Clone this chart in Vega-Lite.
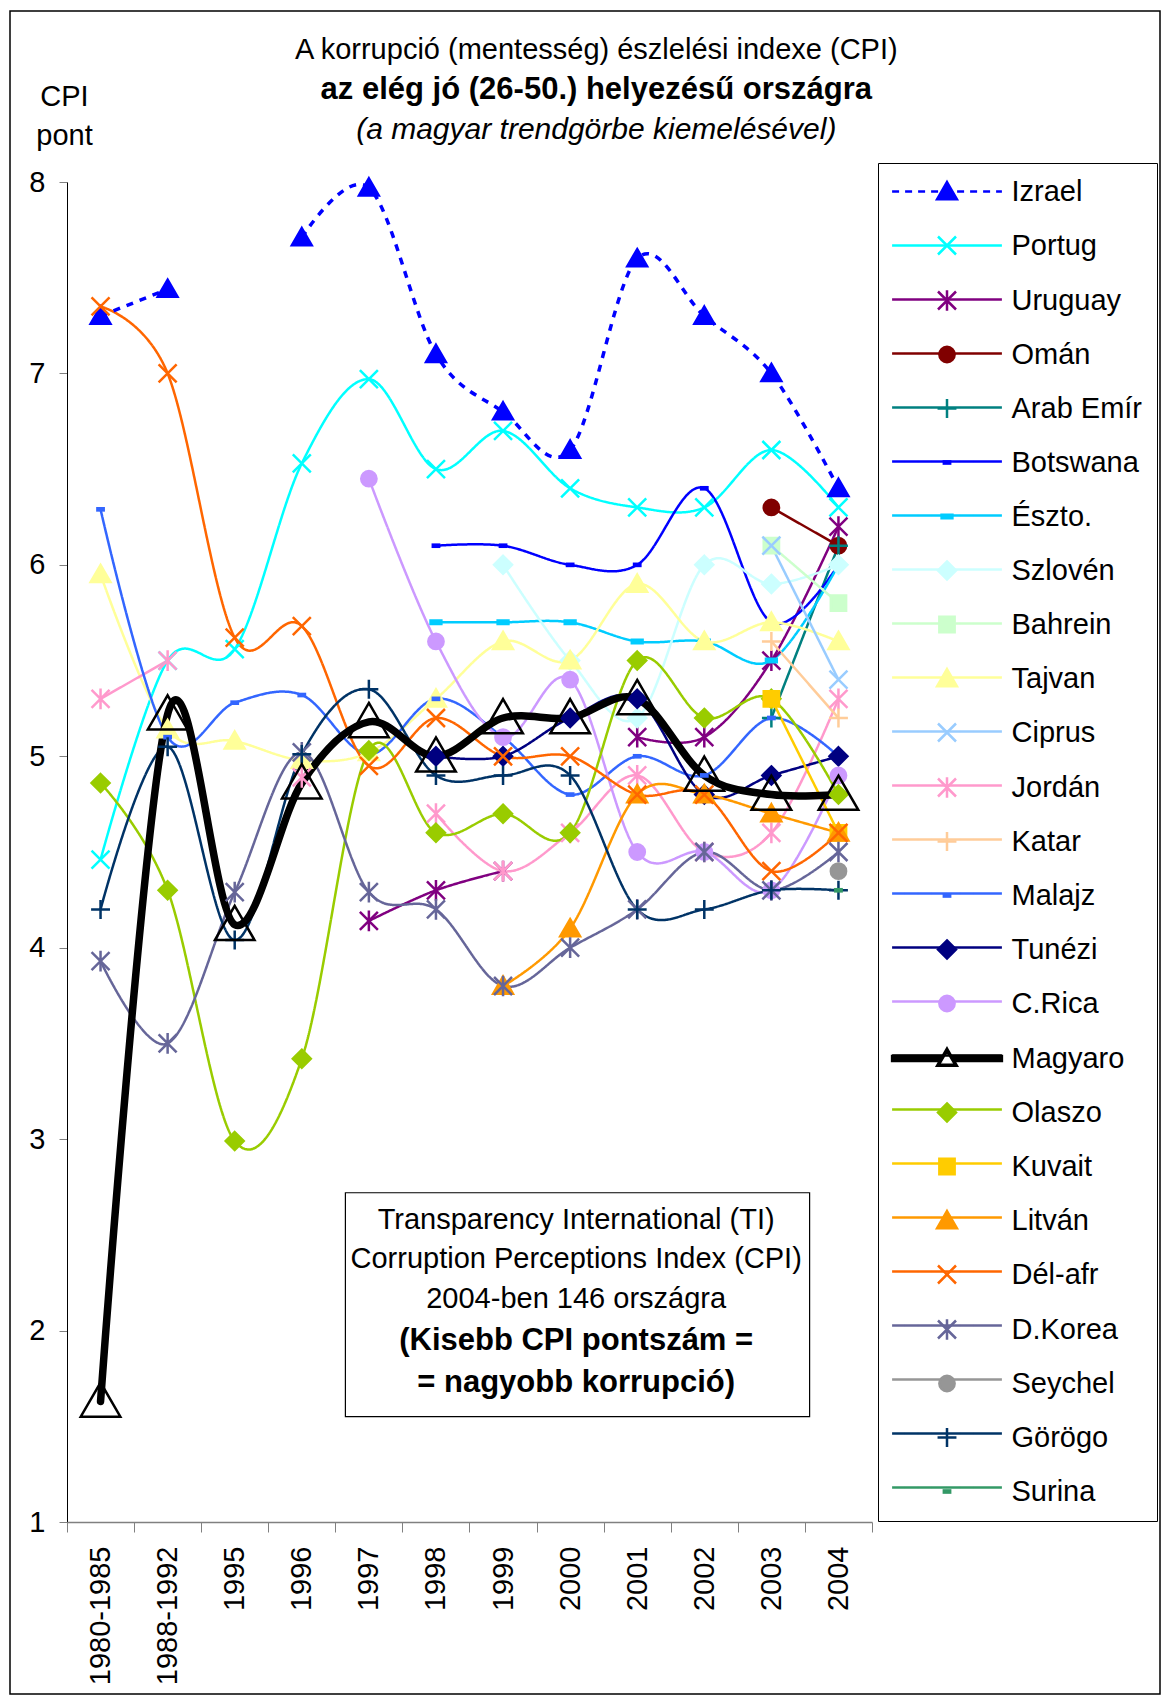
{
"$schema": "https://vega.github.io/schema/vega-lite/v6.json",
"width": 805, "height": 1340,
"autosize": {"type": "none"},
"padding": {"left": 67, "top": 182, "right": 289, "bottom": 173},
"background": "#ffffff",
"config": {"view": {"stroke": null}, "font": "Liberation Sans"},
"data": {"values": [
{"country":"Izrael","period":"1980-1985","cpi":7.3},{"country":"Izrael","period":"1988-1992","cpi":7.44},{"country":"Izrael","period":"1995","cpi":null},{"country":"Izrael","period":"1996","cpi":7.71},{"country":"Izrael","period":"1997","cpi":7.97},{"country":"Izrael","period":"1998","cpi":7.1},{"country":"Izrael","period":"1999","cpi":6.8},{"country":"Izrael","period":"2000","cpi":6.6},{"country":"Izrael","period":"2001","cpi":7.6},{"country":"Izrael","period":"2002","cpi":7.3},{"country":"Izrael","period":"2003","cpi":7.0},{"country":"Izrael","period":"2004","cpi":6.4},
{"country":"Portug","period":"1980-1985","cpi":4.46},{"country":"Portug","period":"1988-1992","cpi":5.5},{"country":"Portug","period":"1995","cpi":5.56},{"country":"Portug","period":"1996","cpi":6.53},{"country":"Portug","period":"1997","cpi":6.97},{"country":"Portug","period":"1998","cpi":6.5},{"country":"Portug","period":"1999","cpi":6.7},{"country":"Portug","period":"2000","cpi":6.4},{"country":"Portug","period":"2001","cpi":6.3},{"country":"Portug","period":"2002","cpi":6.3},{"country":"Portug","period":"2003","cpi":6.6},{"country":"Portug","period":"2004","cpi":6.3},
{"country":"Uruguay","period":"1997","cpi":4.14},{"country":"Uruguay","period":"1998","cpi":4.3},{"country":"Uruguay","period":"1999","cpi":4.4},{"country":"Uruguay","period":"2000","cpi":null},{"country":"Uruguay","period":"2001","cpi":5.1},{"country":"Uruguay","period":"2002","cpi":5.1},{"country":"Uruguay","period":"2003","cpi":5.5},{"country":"Uruguay","period":"2004","cpi":6.2},
{"country":"Omán","period":"2003","cpi":6.3},{"country":"Omán","period":"2004","cpi":6.1},
{"country":"Arab Emír","period":"2003","cpi":5.2},{"country":"Arab Emír","period":"2004","cpi":6.1},
{"country":"Botswana","period":"1998","cpi":6.1},{"country":"Botswana","period":"1999","cpi":6.1},{"country":"Botswana","period":"2000","cpi":6.0},{"country":"Botswana","period":"2001","cpi":6.0},{"country":"Botswana","period":"2002","cpi":6.4},{"country":"Botswana","period":"2003","cpi":5.7},{"country":"Botswana","period":"2004","cpi":6.0},
{"country":"Észto.","period":"1998","cpi":5.7},{"country":"Észto.","period":"1999","cpi":5.7},{"country":"Észto.","period":"2000","cpi":5.7},{"country":"Észto.","period":"2001","cpi":5.6},{"country":"Észto.","period":"2002","cpi":5.6},{"country":"Észto.","period":"2003","cpi":5.5},{"country":"Észto.","period":"2004","cpi":6.0},
{"country":"Szlovén","period":"1999","cpi":6.0},{"country":"Szlovén","period":"2000","cpi":5.5},{"country":"Szlovén","period":"2001","cpi":5.2},{"country":"Szlovén","period":"2002","cpi":6.0},{"country":"Szlovén","period":"2003","cpi":5.9},{"country":"Szlovén","period":"2004","cpi":6.0},
{"country":"Bahrein","period":"2003","cpi":6.1},{"country":"Bahrein","period":"2004","cpi":5.8},
{"country":"Tajvan","period":"1980-1985","cpi":5.95},{"country":"Tajvan","period":"1988-1992","cpi":5.14},{"country":"Tajvan","period":"1995","cpi":5.08},{"country":"Tajvan","period":"1996","cpi":4.98},{"country":"Tajvan","period":"1997","cpi":5.02},{"country":"Tajvan","period":"1998","cpi":5.3},{"country":"Tajvan","period":"1999","cpi":5.6},{"country":"Tajvan","period":"2000","cpi":5.5},{"country":"Tajvan","period":"2001","cpi":5.9},{"country":"Tajvan","period":"2002","cpi":5.6},{"country":"Tajvan","period":"2003","cpi":5.7},{"country":"Tajvan","period":"2004","cpi":5.6},
{"country":"Ciprus","period":"2003","cpi":6.1},{"country":"Ciprus","period":"2004","cpi":5.4},
{"country":"Jordán","period":"1980-1985","cpi":5.3},{"country":"Jordán","period":"1988-1992","cpi":5.5},{"country":"Jordán","period":"1995","cpi":null},{"country":"Jordán","period":"1996","cpi":4.89},{"country":"Jordán","period":"1997","cpi":null},{"country":"Jordán","period":"1998","cpi":4.7},{"country":"Jordán","period":"1999","cpi":4.4},{"country":"Jordán","period":"2000","cpi":4.6},{"country":"Jordán","period":"2001","cpi":4.9},{"country":"Jordán","period":"2002","cpi":4.5},{"country":"Jordán","period":"2003","cpi":4.6},{"country":"Jordán","period":"2004","cpi":5.3},
{"country":"Katar","period":"2003","cpi":5.6},{"country":"Katar","period":"2004","cpi":5.2},
{"country":"Malajz","period":"1980-1985","cpi":6.29},{"country":"Malajz","period":"1988-1992","cpi":5.1},{"country":"Malajz","period":"1995","cpi":5.28},{"country":"Malajz","period":"1996","cpi":5.32},{"country":"Malajz","period":"1997","cpi":5.01},{"country":"Malajz","period":"1998","cpi":5.3},{"country":"Malajz","period":"1999","cpi":5.1},{"country":"Malajz","period":"2000","cpi":4.8},{"country":"Malajz","period":"2001","cpi":5.0},{"country":"Malajz","period":"2002","cpi":4.9},{"country":"Malajz","period":"2003","cpi":5.2},{"country":"Malajz","period":"2004","cpi":5.0},
{"country":"Tunézi","period":"1998","cpi":5.0},{"country":"Tunézi","period":"1999","cpi":5.0},{"country":"Tunézi","period":"2000","cpi":5.2},{"country":"Tunézi","period":"2001","cpi":5.3},{"country":"Tunézi","period":"2002","cpi":4.8},{"country":"Tunézi","period":"2003","cpi":4.9},{"country":"Tunézi","period":"2004","cpi":5.0},
{"country":"C.Rica","period":"1997","cpi":6.45},{"country":"C.Rica","period":"1998","cpi":5.6},{"country":"C.Rica","period":"1999","cpi":5.1},{"country":"C.Rica","period":"2000","cpi":5.4},{"country":"C.Rica","period":"2001","cpi":4.5},{"country":"C.Rica","period":"2002","cpi":4.5},{"country":"C.Rica","period":"2003","cpi":4.3},{"country":"C.Rica","period":"2004","cpi":4.9},
{"country":"Magyaro","period":"1980-1985","cpi":1.63},{"country":"Magyaro","period":"1988-1992","cpi":5.22},{"country":"Magyaro","period":"1995","cpi":4.12},{"country":"Magyaro","period":"1996","cpi":4.86},{"country":"Magyaro","period":"1997","cpi":5.18},{"country":"Magyaro","period":"1998","cpi":5.0},{"country":"Magyaro","period":"1999","cpi":5.2},{"country":"Magyaro","period":"2000","cpi":5.2},{"country":"Magyaro","period":"2001","cpi":5.3},{"country":"Magyaro","period":"2002","cpi":4.9},{"country":"Magyaro","period":"2003","cpi":4.8},{"country":"Magyaro","period":"2004","cpi":4.8},
{"country":"Olaszo","period":"1980-1985","cpi":4.86},{"country":"Olaszo","period":"1988-1992","cpi":4.3},{"country":"Olaszo","period":"1995","cpi":2.99},{"country":"Olaszo","period":"1996","cpi":3.42},{"country":"Olaszo","period":"1997","cpi":5.03},{"country":"Olaszo","period":"1998","cpi":4.6},{"country":"Olaszo","period":"1999","cpi":4.7},{"country":"Olaszo","period":"2000","cpi":4.6},{"country":"Olaszo","period":"2001","cpi":5.5},{"country":"Olaszo","period":"2002","cpi":5.2},{"country":"Olaszo","period":"2003","cpi":5.3},{"country":"Olaszo","period":"2004","cpi":4.8},
{"country":"Kuvait","period":"2003","cpi":5.3},{"country":"Kuvait","period":"2004","cpi":4.6},
{"country":"Litván","period":"1999","cpi":3.8},{"country":"Litván","period":"2000","cpi":4.1},{"country":"Litván","period":"2001","cpi":4.8},{"country":"Litván","period":"2002","cpi":4.8},{"country":"Litván","period":"2003","cpi":4.7},{"country":"Litván","period":"2004","cpi":4.6},
{"country":"Dél-afr","period":"1980-1985","cpi":7.35},{"country":"Dél-afr","period":"1988-1992","cpi":7.0},{"country":"Dél-afr","period":"1995","cpi":5.62},{"country":"Dél-afr","period":"1996","cpi":5.68},{"country":"Dél-afr","period":"1997","cpi":4.95},{"country":"Dél-afr","period":"1998","cpi":5.2},{"country":"Dél-afr","period":"1999","cpi":5.0},{"country":"Dél-afr","period":"2000","cpi":5.0},{"country":"Dél-afr","period":"2001","cpi":4.8},{"country":"Dél-afr","period":"2002","cpi":4.8},{"country":"Dél-afr","period":"2003","cpi":4.4},{"country":"Dél-afr","period":"2004","cpi":4.6},
{"country":"D.Korea","period":"1980-1985","cpi":3.93},{"country":"D.Korea","period":"1988-1992","cpi":3.5},{"country":"D.Korea","period":"1995","cpi":4.29},{"country":"D.Korea","period":"1996","cpi":5.02},{"country":"D.Korea","period":"1997","cpi":4.29},{"country":"D.Korea","period":"1998","cpi":4.2},{"country":"D.Korea","period":"1999","cpi":3.8},{"country":"D.Korea","period":"2000","cpi":4.0},{"country":"D.Korea","period":"2001","cpi":4.2},{"country":"D.Korea","period":"2002","cpi":4.5},{"country":"D.Korea","period":"2003","cpi":4.3},{"country":"D.Korea","period":"2004","cpi":4.5},
{"country":"Seychel","period":"2004","cpi":4.4},
{"country":"Görögo","period":"1980-1985","cpi":4.2},{"country":"Görögo","period":"1988-1992","cpi":5.05},{"country":"Görögo","period":"1995","cpi":4.04},{"country":"Görögo","period":"1996","cpi":5.01},{"country":"Görögo","period":"1997","cpi":5.35},{"country":"Görögo","period":"1998","cpi":4.9},{"country":"Görögo","period":"1999","cpi":4.9},{"country":"Görögo","period":"2000","cpi":4.9},{"country":"Görögo","period":"2001","cpi":4.2},{"country":"Görögo","period":"2002","cpi":4.2},{"country":"Görögo","period":"2003","cpi":4.3},{"country":"Görögo","period":"2004","cpi":4.3},
{"country":"Surina","period":"2004","cpi":4.3}
]},
"layer": [
{"data": {"values": [{}]},
 "mark": {"type": "rect", "fill": "transparent", "stroke": "#000000", "strokeWidth": 1.5},
 "encoding": {"x": {"value": -57}, "x2": {"value": 1093}, "y": {"value": -171}, "y2": {"value": 1512}}},
{"data": {"values": [{}]},
 "mark": {"type": "rect", "fill": "#ffffff", "stroke": "#000000", "strokeWidth": 1.2},
 "encoding": {"x": {"datum": "1997", "bandPosition": 0.15}, "x2": {"datum": "2004", "bandPosition": 0.07}, "y": {"datum": 2.72}, "y2": {"datum": 1.55}}},
{"transform": [{"filter": "datum.country !== 'Izrael' && datum.country !== 'Magyaro'"}],
 "mark": {"type": "line", "interpolate": "cardinal", "strokeWidth": 2.5, "invalid": "break-paths-show-domains"},
 "encoding": {
  "x": {"field": "period", "type": "nominal", "sort": null,
   "scale": {"type": "band", "domain": ["1980-1985","1988-1992","1995","1996","1997","1998","1999","2000","2001","2002","2003","2004"], "paddingInner": 0, "paddingOuter": 0},
   "axis": {"title": null, "labelAngle": -90, "labelFontSize": 29, "labelFont": "Liberation Sans", "labelColor": "#000000", "labelPadding": 14, "tickBand": "extent", "tickSize": 10, "tickColor": "#808080", "domainColor": "#808080", "domainWidth": 1.5, "grid": false, "labelOverlap": false}},
  "y": {"field": "cpi", "type": "quantitative",
   "scale": {"domain": [1, 8], "nice": false, "zero": false},
   "axis": {"values": [1,2,3,4,5,6,7,8], "format": "d", "labelFontSize": 29, "labelFont": "Liberation Sans", "labelColor": "#000000", "labelPadding": 14, "tickSize": 8, "tickColor": "#808080", "domainColor": "#000000", "grid": false,
    "title": ["CPI", "pont"], "titleAngle": 0, "titleAlign": "center", "titleBaseline": "middle", "titleX": -3, "titleY": -85.6, "titleFontSize": 29, "titleFontWeight": "normal", "titleFont": "Liberation Sans", "titleLineHeight": 39, "titleColor": "#000000"}},
  "stroke": {"field": "country", "type": "nominal",
   "scale": {"domain": ["Izrael","Portug","Uruguay","Omán","Arab Emír","Botswana","Észto.","Szlovén","Bahrein","Tajvan","Ciprus","Jordán","Katar","Malajz","Tunézi","C.Rica","Magyaro","Olaszo","Kuvait","Litván","Dél-afr","D.Korea","Seychel","Görögo","Surina","~"],
    "range": ["#0000FF","#00FFFF","#800080","#800000","#008080","#0000FF","#00CCFF","#CCFFFF","#CCFFCC","#FFFF99","#99CCFF","#FF99CC","#FFCC99","#3366FF","#000080","#CC99FF","#000000","#99CC00","#FFCC00","#FF9900","#FF6600","#666699","#969696","#003366","#339966","#ffffff"]},
   "legend": {"orient": "none", "legendX": 811, "legendY": -19, "title": null,
    "values": ["Izrael","Portug","Uruguay","Omán","Arab Emír","Botswana","Észto.","Szlovén","Bahrein","Tajvan","Ciprus","Jordán","Katar","Malajz","Tunézi","C.Rica","Magyaro","Olaszo","Kuvait","Litván","Dél-afr","D.Korea","Seychel","Görögo","Surina"],
    "symbolType": "M-6.1,0H6.1", "symbolSize": 324, "symbolStrokeWidth": 2.5, "symbolOffset": 40.5, "labelOffset": 50, "rowPadding": 24, "padding": 14, "labelFont": "Liberation Sans", "labelFontSize": 29, "labelOpacity": 0, "labelLimit": 0}},
  "strokeDash": {"field": "country", "type": "nominal",
   "scale": {"domain": ["Izrael","Portug","Uruguay","Omán","Arab Emír","Botswana","Észto.","Szlovén","Bahrein","Tajvan","Ciprus","Jordán","Katar","Malajz","Tunézi","C.Rica","Magyaro","Olaszo","Kuvait","Litván","Dél-afr","D.Korea","Seychel","Görögo","Surina","~"],
    "range": [[7,6],[1,0],[1,0],[1,0],[1,0],[1,0],[1,0],[1,0],[1,0],[1,0],[1,0],[1,0],[1,0],[1,0],[1,0],[1,0],[1,0],[1,0],[1,0],[1,0],[1,0],[1,0],[1,0],[1,0],[1,0],[1,0]]},
   "legend": {"orient": "none", "legendX": 811, "legendY": -19, "title": null,
    "values": ["Izrael","Portug","Uruguay","Omán","Arab Emír","Botswana","Észto.","Szlovén","Bahrein","Tajvan","Ciprus","Jordán","Katar","Malajz","Tunézi","C.Rica","Magyaro","Olaszo","Kuvait","Litván","Dél-afr","D.Korea","Seychel","Görögo","Surina"],
    "symbolType": "M-6.1,0H6.1", "symbolSize": 324, "symbolStrokeWidth": 2.5, "symbolOffset": 40.5, "labelOffset": 50, "rowPadding": 24, "padding": 14, "labelFont": "Liberation Sans", "labelFontSize": 29, "labelOpacity": 0, "labelLimit": 0}}
 }},
{"transform": [{"filter": "datum.country === 'Izrael'"}],
 "mark": {"type": "line", "interpolate": "cardinal", "stroke": "#0000FF", "strokeWidth": 3.5, "strokeDash": [7, 7], "invalid": "break-paths-show-domains"},
 "encoding": {"x": {"field": "period", "type": "nominal", "sort": null}, "y": {"field": "cpi", "type": "quantitative"}}},
{"transform": [{"filter": "datum.country === 'Magyaro'"}],
 "mark": {"type": "line", "interpolate": "cardinal", "stroke": "#000000", "strokeWidth": 7.5, "strokeJoin": "round", "strokeCap": "round"},
 "encoding": {"x": {"field": "period", "type": "nominal", "sort": null}, "y": {"field": "cpi", "type": "quantitative"}}},
{"transform": [{"filter": "datum.country !== 'Magyaro' && datum.cpi != null"}],
 "mark": {"type": "point", "filled": false, "size": 324, "strokeWidth": 2.5, "opacity": 1},
 "encoding": {
  "x": {"field": "period", "type": "nominal", "sort": null},
  "y": {"field": "cpi", "type": "quantitative"},
  "color": {"field": "country", "type": "nominal",
   "scale": {"domain": ["Izrael","Portug","Uruguay","Omán","Arab Emír","Botswana","Észto.","Szlovén","Bahrein","Tajvan","Ciprus","Jordán","Katar","Malajz","Tunézi","C.Rica","Magyaro","Olaszo","Kuvait","Litván","Dél-afr","D.Korea","Seychel","Görögo","Surina"],
    "range": ["#0000FF","#00FFFF","#800080","#800000","#008080","#0000FF","#00CCFF","#CCFFFF","#CCFFCC","#FFFF99","#99CCFF","#FF99CC","#FFCC99","#3366FF","#000080","#CC99FF","#000000","#99CC00","#FFCC00","#FF9900","#FF6600","#666699","#969696","#003366","#339966"]},
   "legend": {"orient": "none", "legendX": 811, "legendY": -19, "title": null, "symbolSize": 324, "symbolStrokeWidth": 2.5, "symbolOffset": 40.5, "labelOffset": 50, "rowPadding": 24, "padding": 14, "strokeColor": "#000000", "labelFont": "Liberation Sans", "labelFontSize": 29, "labelColor": "#000000", "labelLimit": 0}},
  "fill": {"field": "country", "type": "nominal",
   "scale": {"domain": ["Izrael","Portug","Uruguay","Omán","Arab Emír","Botswana","Észto.","Szlovén","Bahrein","Tajvan","Ciprus","Jordán","Katar","Malajz","Tunézi","C.Rica","Magyaro","Olaszo","Kuvait","Litván","Dél-afr","D.Korea","Seychel","Görögo","Surina"],
    "range": ["#0000FF","transparent","transparent","#800000","transparent","#0000FF","#00CCFF","#CCFFFF","#CCFFCC","#FFFF99","transparent","transparent","transparent","#3366FF","#000080","#CC99FF","#000000","#99CC00","#FFCC00","#FF9900","transparent","transparent","#969696","transparent","#339966"]},
   "legend": {"orient": "none", "legendX": 811, "legendY": -19, "title": null, "symbolSize": 324, "symbolStrokeWidth": 2.5, "symbolOffset": 40.5, "labelOffset": 50, "rowPadding": 24, "padding": 14, "strokeColor": "#000000", "labelFont": "Liberation Sans", "labelFontSize": 29, "labelColor": "#000000", "labelLimit": 0}},
  "shape": {"field": "country", "type": "nominal",
   "scale": {"domain": ["Izrael","Portug","Uruguay","Omán","Arab Emír","Botswana","Észto.","Szlovén","Bahrein","Tajvan","Ciprus","Jordán","Katar","Malajz","Tunézi","C.Rica","Magyaro","Olaszo","Kuvait","Litván","Dél-afr","D.Korea","Seychel","Görögo","Surina"],
    "range": [
     "M0,-1.05L1.1,0.85L-1.1,0.85Z",
     "M-1,-1L1,1M-1,1L1,-1",
     "M-1,-1L1,1M-1,1L1,-1M0,-1.15V1.15",
     "M0.85,0A0.85,0.85,0,1,1,-0.85,0A0.85,0.85,0,1,1,0.85,0Z",
     "M-1.05,0H1.05M0,-1.05V1.05",
     "M-0.35,-0.12H0.35V0.12H-0.35Z",
     "M-0.6,-0.2H0.6V0.2H-0.6Z",
     "M0,-1L1,0L0,1L-1,0Z",
     "M-0.85,-0.85H0.85V0.85H-0.85Z",
     "M0,-1.05L1.1,0.85L-1.1,0.85Z",
     "M-1,-1L1,1M-1,1L1,-1",
     "M-1,-1L1,1M-1,1L1,-1M0,-1.15V1.15",
     "M-1.05,0H1.05M0,-1.05V1.05",
     "M-0.35,-0.12H0.35V0.12H-0.35Z",
     "M0,-1L1,0L0,1L-1,0Z",
     "M0.85,0A0.85,0.85,0,1,1,-0.85,0A0.85,0.85,0,1,1,0.85,0Z",
     "M-6.1,-0.28H-0.65V0.28H-6.1ZM0.65,-0.28H6.1V0.28H0.65ZM0,-1.1L1.1,0.8L-1.1,0.8ZM0,-0.86L-0.92,0.7L0.92,0.7Z",
     "M0,-1L1,0L0,1L-1,0Z",
     "M-0.85,-0.85H0.85V0.85H-0.85Z",
     "M0,-1.05L1.1,0.85L-1.1,0.85Z",
     "M-1,-1L1,1M-1,1L1,-1",
     "M-1,-1L1,1M-1,1L1,-1M0,-1.15V1.15",
     "M0.85,0A0.85,0.85,0,1,1,-0.85,0A0.85,0.85,0,1,1,0.85,0Z",
     "M-1.05,0H1.05M0,-1.05V1.05",
     "M-0.35,-0.12H0.35V0.12H-0.35Z"]},
   "legend": {"orient": "none", "legendX": 811, "legendY": -19, "title": null, "symbolSize": 324, "symbolStrokeWidth": 2.5, "symbolOffset": 40.5, "labelOffset": 50, "rowPadding": 24, "padding": 14, "strokeColor": "#000000", "labelFont": "Liberation Sans", "labelFontSize": 29, "labelColor": "#000000", "labelLimit": 0}}
 }},
{"transform": [{"filter": "datum.country === 'Magyaro'"}],
 "mark": {"type": "point", "shape": "M0,-1.05L1.1,0.85L-1.1,0.85Z", "size": 1296, "fill": "transparent", "stroke": "#000000", "strokeWidth": 2.5, "opacity": 1},
 "encoding": {"x": {"field": "period", "type": "nominal", "sort": null}, "y": {"field": "cpi", "type": "quantitative"}}},
{"data": {"values": [{}]},
 "mark": {"type": "text", "font": "Liberation Sans", "fontSize": 29, "align": "center", "baseline": "middle", "color": "#000000"},
 "encoding": {"x": {"datum": "2000", "bandPosition": 0.89}, "y": {"datum": 8.687}, "text": {"value": "A korrupció (mentesség) észlelési indexe (CPI)"}}},
{"data": {"values": [{}]},
 "mark": {"type": "text", "font": "Liberation Sans", "fontSize": 31, "fontWeight": "bold", "align": "center", "baseline": "middle", "color": "#000000"},
 "encoding": {"x": {"datum": "2000", "bandPosition": 0.89}, "y": {"datum": 8.478}, "text": {"value": "az elég jó (26-50.) helyezésű  országra"}}},
{"data": {"values": [{}]},
 "mark": {"type": "text", "font": "Liberation Sans", "fontSize": 30, "fontStyle": "italic", "align": "center", "baseline": "middle", "color": "#000000"},
 "encoding": {"x": {"datum": "2000", "bandPosition": 0.89}, "y": {"datum": 8.27}, "text": {"value": "(a magyar trendgörbe kiemelésével)"}}},
{"data": {"values": [{}]},
 "mark": {"type": "text", "font": "Liberation Sans", "fontSize": 29, "align": "center", "baseline": "middle", "lineHeight": 39.5, "color": "#000000"},
 "encoding": {"x": {"datum": "2000", "bandPosition": 0.59}, "y": {"datum": 2.578}, "text": {"value": ["Transparency International (TI)", "Corruption Perceptions Index (CPI)", "2004-ben 146 országra"]}}},
{"data": {"values": [{}]},
 "mark": {"type": "text", "font": "Liberation Sans", "fontSize": 31, "fontWeight": "bold", "align": "center", "baseline": "middle", "lineHeight": 42, "color": "#000000"},
 "encoding": {"x": {"datum": "2000", "bandPosition": 0.59}, "y": {"datum": 1.946}, "text": {"value": ["(Kisebb CPI pontszám =", "= nagyobb korrupció)"]}}}
]
}
